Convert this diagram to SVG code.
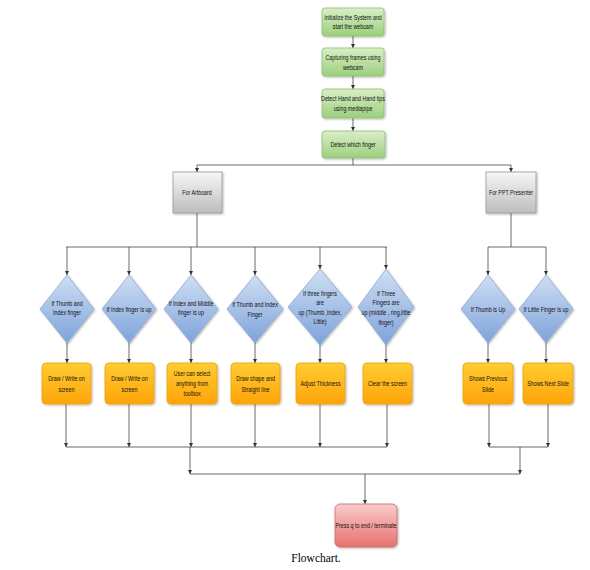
<svg xmlns="http://www.w3.org/2000/svg" width="590" height="570" viewBox="0 0 590 570">
<defs>
<linearGradient id="gGreen" x1="0" y1="0" x2="0" y2="1"><stop offset="0" stop-color="#d9efc8"/><stop offset="1" stop-color="#9ccf7c"/></linearGradient>
<linearGradient id="gGray" x1="0" y1="0" x2="0" y2="1"><stop offset="0" stop-color="#f7f7f7"/><stop offset="1" stop-color="#bdbdbd"/></linearGradient>
<linearGradient id="gBlue" x1="0" y1="0" x2="0" y2="1"><stop offset="0" stop-color="#cfdff4"/><stop offset="1" stop-color="#7ea2da"/></linearGradient>
<linearGradient id="gOrange" x1="0" y1="0" x2="0" y2="1"><stop offset="0" stop-color="#ffcc33"/><stop offset="1" stop-color="#ffa40a"/></linearGradient>
<linearGradient id="gRed" x1="0" y1="0" x2="0" y2="1"><stop offset="0" stop-color="#f9cccc"/><stop offset="1" stop-color="#e8706e"/></linearGradient>
<filter id="sh" x="-20%" y="-20%" width="150%" height="150%"><feDropShadow dx="1" dy="1" stdDeviation="0.8" flood-color="#000" flood-opacity="0.3"/></filter>
<marker id="ah" viewBox="0 0 6 6" markerWidth="4" markerHeight="4" refX="6" refY="3" orient="auto" markerUnits="userSpaceOnUse"><path d="M0,0 L6,3 L0,6 z" fill="#333"/></marker>
</defs>
<style>
.t{font-family:"Liberation Sans",Arial,sans-serif;font-size:7.4px;fill:#111;text-anchor:middle}
.green{fill:url(#gGreen);stroke:#8fc070;stroke-width:0.8;filter:url(#sh)}
.gray{fill:url(#gGray);stroke:#999;stroke-width:0.8;filter:url(#sh)}
.blue{fill:url(#gBlue);stroke:#8aa8d6;stroke-width:0.8;filter:url(#sh)}
.orange{fill:url(#gOrange);stroke:#f0a010;stroke-width:0.8;filter:url(#sh)}
.red{fill:url(#gRed);stroke:#c96a6a;stroke-width:0.8;filter:url(#sh)}
.c{stroke:#444;stroke-width:0.8;fill:none}
.a{stroke:#444;stroke-width:0.8;fill:none;marker-end:url(#ah)}
.cap{font-family:"Liberation Serif","Times New Roman",serif;font-size:11.5px;fill:#000;text-anchor:middle}
</style>
<rect width="590" height="570" fill="#fff"/>

<g id="connectors">
<line class="a" x1="353" y1="36" x2="353" y2="48"/>
<line class="a" x1="353" y1="76" x2="353" y2="89"/>
<line class="a" x1="353" y1="118" x2="353" y2="131"/>
<line class="c" x1="353" y1="158" x2="353" y2="165"/>
<line class="c" x1="197" y1="165" x2="511" y2="165"/>
<line class="a" x1="197" y1="165" x2="197" y2="172"/>
<line class="a" x1="511" y1="165" x2="511" y2="172"/>
<line class="c" x1="197" y1="213" x2="197" y2="247"/>
<line class="c" x1="66" y1="247" x2="387" y2="247"/>
<line class="c" x1="511" y1="213" x2="511" y2="247"/>
<line class="c" x1="488" y1="247" x2="546" y2="247"/>
<line class="a" x1="67" y1="247" x2="67" y2="275"/>
<line class="a" x1="129" y1="247" x2="129" y2="275"/>
<line class="a" x1="191" y1="247" x2="191" y2="275"/>
<line class="a" x1="255" y1="247" x2="255" y2="275"/>
<line class="a" x1="320" y1="247" x2="320" y2="269"/>
<line class="a" x1="386" y1="247" x2="386" y2="269"/>
<line class="a" x1="488" y1="247" x2="488" y2="275"/>
<line class="a" x1="546" y1="247" x2="546" y2="275"/>
<line class="a" x1="67" y1="343" x2="67" y2="363"/>
<line class="a" x1="129" y1="343" x2="129" y2="363"/>
<line class="a" x1="191" y1="343" x2="191" y2="363"/>
<line class="a" x1="255" y1="343" x2="255" y2="363"/>
<line class="a" x1="320" y1="345" x2="320" y2="363"/>
<line class="a" x1="386" y1="345" x2="386" y2="363"/>
<line class="a" x1="488" y1="343" x2="488" y2="363"/>
<line class="a" x1="546" y1="343" x2="546" y2="363"/>
<line class="a" x1="66" y1="404" x2="66" y2="447"/>
<line class="a" x1="129" y1="404" x2="129" y2="447"/>
<line class="a" x1="191" y1="404" x2="191" y2="447"/>
<line class="a" x1="255" y1="404" x2="255" y2="447"/>
<line class="a" x1="320" y1="404" x2="320" y2="447"/>
<line class="a" x1="387" y1="404" x2="387" y2="447"/>
<line class="a" x1="489" y1="404" x2="489" y2="447"/>
<line class="a" x1="548" y1="404" x2="548" y2="447"/>
<line class="c" x1="66" y1="447" x2="387" y2="447"/>
<line class="c" x1="489" y1="447" x2="548" y2="447"/>
<line class="a" x1="190" y1="447" x2="190" y2="474"/>
<line class="a" x1="520" y1="447" x2="520" y2="474"/>
<line class="c" x1="190" y1="474" x2="520" y2="474"/>
<line class="a" x1="365" y1="474" x2="365" y2="504"/>
</g>

<g id="n-init">
<rect class="green" x="322" y="8" width="62" height="28" rx="3"/>
<text class="t" transform="translate(353 0) scale(0.72 1)"><tspan x="0" y="20">Initialize the System and</tspan><tspan x="0" y="29">start the webcam</tspan></text>
</g>
<g id="n-capture">
<rect class="green" x="322" y="48" width="62" height="28" rx="3"/>
<text class="t" transform="translate(353 0) scale(0.72 1)"><tspan x="0" y="60">Capturing frames using</tspan><tspan x="0" y="70">webcam</tspan></text>
</g>
<g id="n-detect">
<rect class="green" x="322" y="89" width="62" height="29" rx="3"/>
<text class="t" transform="translate(353 0) scale(0.72 1)"><tspan x="0" y="101">Detect Hand and Hand tips</tspan><tspan x="0" y="111">using mediapipe</tspan></text>
</g>
<g id="n-finger">
<rect class="green" x="322" y="131" width="63" height="27" rx="3"/>
<text class="t" transform="translate(353 0) scale(0.72 1)"><tspan x="0" y="147">Detect which finger</tspan></text>
</g>

<g id="n-artboard">
<rect class="gray" x="173" y="172" width="49" height="41"/>
<text class="t" transform="translate(197 0) scale(0.72 1)"><tspan x="0" y="195">For Artboard</tspan></text>
</g>
<g id="n-ppt">
<rect class="gray" x="486" y="172" width="50" height="41"/>
<text class="t" transform="translate(511 0) scale(0.72 1)"><tspan x="0" y="195">For PPT Presenter</tspan></text>
</g>

<g id="d1">
<polygon class="blue" points="67,275 94,309 67,343 40,309"/>
<text class="t" transform="translate(67 0) scale(0.72 1)"><tspan x="0" y="306">If Thumb and</tspan><tspan x="0" y="315">Index finger</tspan></text>
</g>
<g id="d2">
<polygon class="blue" points="129,275 156,309 129,343 102,309"/>
<text class="t" transform="translate(129 0) scale(0.72 1)"><tspan x="0" y="312">If Index finger is up</tspan></text>
</g>
<g id="d3">
<polygon class="blue" points="191,275 218,309 191,343 164,309"/>
<text class="t" transform="translate(191 0) scale(0.72 1)"><tspan x="0" y="306">If Index and Middle</tspan><tspan x="0" y="315">finger is up</tspan></text>
</g>
<g id="d4">
<polygon class="blue" points="255,275 283,309 255,343 227,309"/>
<text class="t" transform="translate(255 0) scale(0.72 1)"><tspan x="0" y="307">If Thumb and Index</tspan><tspan x="0" y="317">Finger</tspan></text>
</g>
<g id="d5">
<polygon class="blue" points="320,269 352,307 320,345 288,307"/>
<text class="t" transform="translate(320 0) scale(0.72 1)"><tspan x="0" y="296">If three fingers</tspan><tspan x="0" y="305">are</tspan><tspan x="0" y="315">up (Thumb ,Index,</tspan><tspan x="0" y="324">Little)</tspan></text>
</g>
<g id="d6">
<polygon class="blue" points="386,269 414,307 386,345 358,307"/>
<text class="t" transform="translate(386 0) scale(0.72 1)"><tspan x="0" y="296">If Three</tspan><tspan x="0" y="305">Fingers are</tspan><tspan x="0" y="315">up (middle , ring,little</tspan><tspan x="0" y="325">finger)</tspan></text>
</g>
<g id="d7">
<polygon class="blue" points="488,275 515,309 488,343 461,309"/>
<text class="t" transform="translate(488 0) scale(0.72 1)"><tspan x="0" y="312">If Thumb is Up</tspan></text>
</g>
<g id="d8">
<polygon class="blue" points="546,275 573,309 546,343 519,309"/>
<text class="t" transform="translate(546 0) scale(0.72 1)"><tspan x="0" y="312">If  Little Finger is up</tspan></text>
</g>

<g id="o1">
<rect class="orange" x="42" y="363" width="49" height="41" rx="4"/>
<text class="t" transform="translate(66.5 0) scale(0.72 1)"><tspan x="0" y="381">Draw / Write on</tspan><tspan x="0" y="392">screen</tspan></text>
</g>
<g id="o2">
<rect class="orange" x="105" y="363" width="49" height="41" rx="4"/>
<text class="t" transform="translate(129.5 0) scale(0.72 1)"><tspan x="0" y="381">Draw / Write on</tspan><tspan x="0" y="392">screen</tspan></text>
</g>
<g id="o3">
<rect class="orange" x="167" y="363" width="50" height="41" rx="4"/>
<text class="t" transform="translate(192 0) scale(0.72 1)"><tspan x="0" y="376">User can select</tspan><tspan x="0" y="386">anything from</tspan><tspan x="0" y="396">toolbox</tspan></text>
</g>
<g id="o4">
<rect class="orange" x="231" y="363" width="49" height="41" rx="4"/>
<text class="t" transform="translate(255.5 0) scale(0.72 1)"><tspan x="0" y="381">Draw  shape and</tspan><tspan x="0" y="392">Straight line</tspan></text>
</g>
<g id="o5">
<rect class="orange" x="296" y="363" width="49" height="41" rx="4"/>
<text class="t" transform="translate(320.5 0) scale(0.72 1)"><tspan x="0" y="386">Adjust Thickness</tspan></text>
</g>
<g id="o6">
<rect class="orange" x="363" y="363" width="49" height="41" rx="4"/>
<text class="t" transform="translate(387.5 0) scale(0.72 1)"><tspan x="0" y="386">Clear the screen</tspan></text>
</g>
<g id="o7">
<rect class="orange" x="463" y="363" width="50" height="41" rx="4"/>
<text class="t" transform="translate(488 0) scale(0.72 1)"><tspan x="0" y="381">Shows Previous</tspan><tspan x="0" y="392">Slide</tspan></text>
</g>
<g id="o8">
<rect class="orange" x="523" y="363" width="50" height="41" rx="4"/>
<text class="t" transform="translate(548 0) scale(0.72 1)"><tspan x="0" y="386">Shows Next Slide</tspan></text>
</g>

<g id="n-end">
<rect class="red" x="335" y="504" width="62" height="43" rx="5"/>
<text class="t" transform="translate(366 0) scale(0.72 1)"><tspan x="0" y="528">Press q to end / terminate</tspan></text>
</g>

<text class="cap" x="316" y="562">Flowchart.</text>
</svg>
